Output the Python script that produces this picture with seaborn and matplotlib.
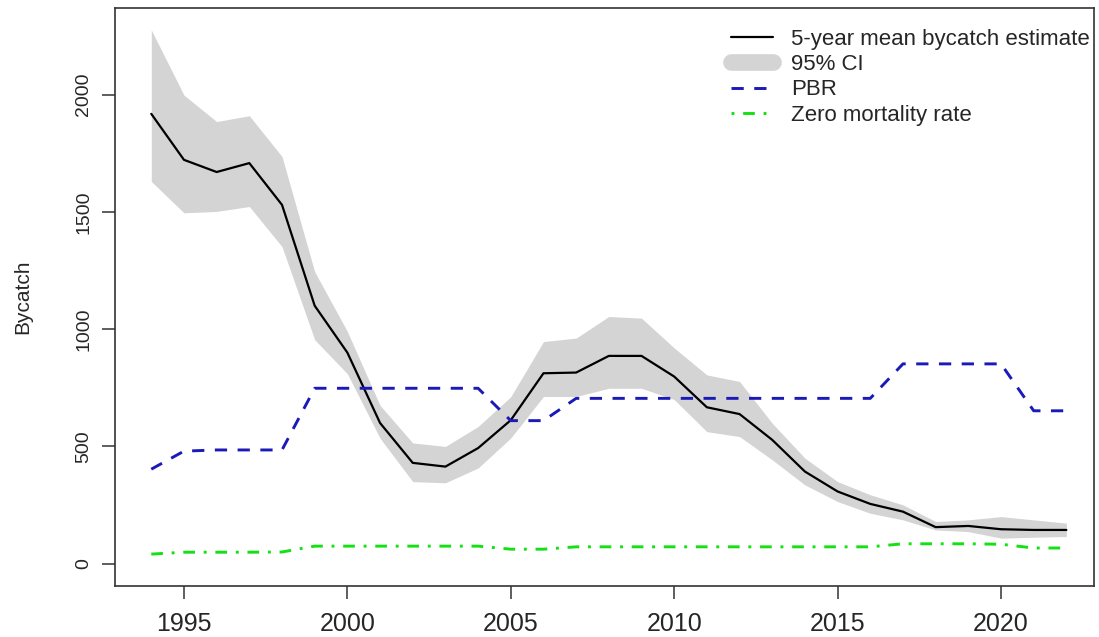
import pandas as pd
import seaborn as sns
import matplotlib.pyplot as plt
from matplotlib.lines import Line2D

# Values
years = list(range(1994, 2023))
mean_bycatch = [1918, 1722, 1670, 1708, 1530, 1100, 900, 600, 430, 414,
                493, 612, 812, 815, 886, 886, 798, 667, 638, 528,
                393, 308, 255, 222, 156, 161, 147, 144, 144]
ci_upper = [2276, 1998, 1885, 1910, 1736, 1245, 990, 675, 515, 500,
            585, 712, 947, 962, 1054, 1047, 920, 805, 777, 599,
            450, 350, 294, 251, 180, 187, 201, 187, 173]
ci_lower = [1630, 1496, 1502, 1523, 1352, 955, 810, 535, 350, 345,
            408, 536, 713, 713, 748, 748, 700, 563, 542, 443,
            336, 265, 215, 187, 144, 137, 109, 113, 116]
pbr = [403, 480, 485, 485, 485, 748, 748, 748, 748, 748,
       748, 610, 610, 705, 705, 705, 705, 705, 705, 705,
       705, 705, 705, 852, 852, 852, 852, 652, 652]
zero_mort = [41, 49, 49, 49, 50, 75, 75, 75, 75, 75,
             75, 62, 62, 72, 72, 72, 72, 72, 72, 72,
             72, 72, 72, 85, 85, 85, 83, 67, 67]

df = pd.DataFrame({
    'year': years,
    'mean': mean_bycatch,
    'lower': ci_lower,
    'upper': ci_upper,
    'pbr': pbr,
    'zmr': zero_mort,
})

sns.set_style('ticks')
plt.rcParams['font.family'] = ['Liberation Sans', 'DejaVu Sans']

fig = plt.figure(figsize=(10.99, 6.37), dpi=100)
ax = fig.add_axes([115 / 1099, 1 - 586 / 637, (1093.5 - 115) / 1099, (586 - 8.3) / 637])

band_col = '#d4d4d4'
blue = '#1a1ab8'
green = '#14e014'

ax.fill_between(df['year'], df['lower'], df['upper'], color=band_col, lw=0)
sns.lineplot(data=df, x='year', y='mean', ax=ax, color='black', lw=1.6)
sns.lineplot(data=df, x='year', y='pbr', ax=ax, color=blue, lw=2.1)
ax.lines[-1].set_dashes((4.2, 3.6))
sns.lineplot(data=df, x='year', y='zmr', ax=ax, color=green, lw=2.1)
ax.lines[-1].set_dashes((4, 3, 1, 3))

ax.set_xlim(1992.89, 2022.83)
ax.set_ylim(-95, 2368)
ax.set_xticks([1995, 2000, 2005, 2010, 2015, 2020])
ax.set_yticks([0, 500, 1000, 1500, 2000])
ax.set_xlabel('')
ax.set_ylabel('Bycatch', fontsize=15, labelpad=31)
ax.tick_params(axis='both', length=9.5, width=1.1, color='#333333')
ax.tick_params(axis='x', labelsize=18, pad=9)
ax.tick_params(axis='y', labelsize=14, pad=7)
for lbl in ax.get_yticklabels():
    lbl.set_rotation(90)
    lbl.set_va('center')
for sp in ax.spines.values():
    sp.set_visible(True)
    sp.set_linewidth(1.2)
    sp.set_color('#333333')

handles = [
    Line2D([], [], color='black', lw=1.6),
    Line2D([], [], color=band_col, lw=12, solid_capstyle='round'),
    Line2D([], [], color=blue, lw=2.1, dashes=(4.2, 3.6)),
    Line2D([], [], color=green, lw=2.1, dashes=(1, 3, 4, 3)),
]
labels = ['5-year mean bycatch estimate', '95% CI', 'PBR', 'Zero mortality rate']
ax.legend(handles, labels, loc='upper left', bbox_to_anchor=(0.630, 0.965),
          frameon=False, fontsize=16, handlelength=1.85, handletextpad=0.84,
          labelspacing=0.2, borderpad=0, borderaxespad=0)

fig.savefig('out.png', dpi=100)
